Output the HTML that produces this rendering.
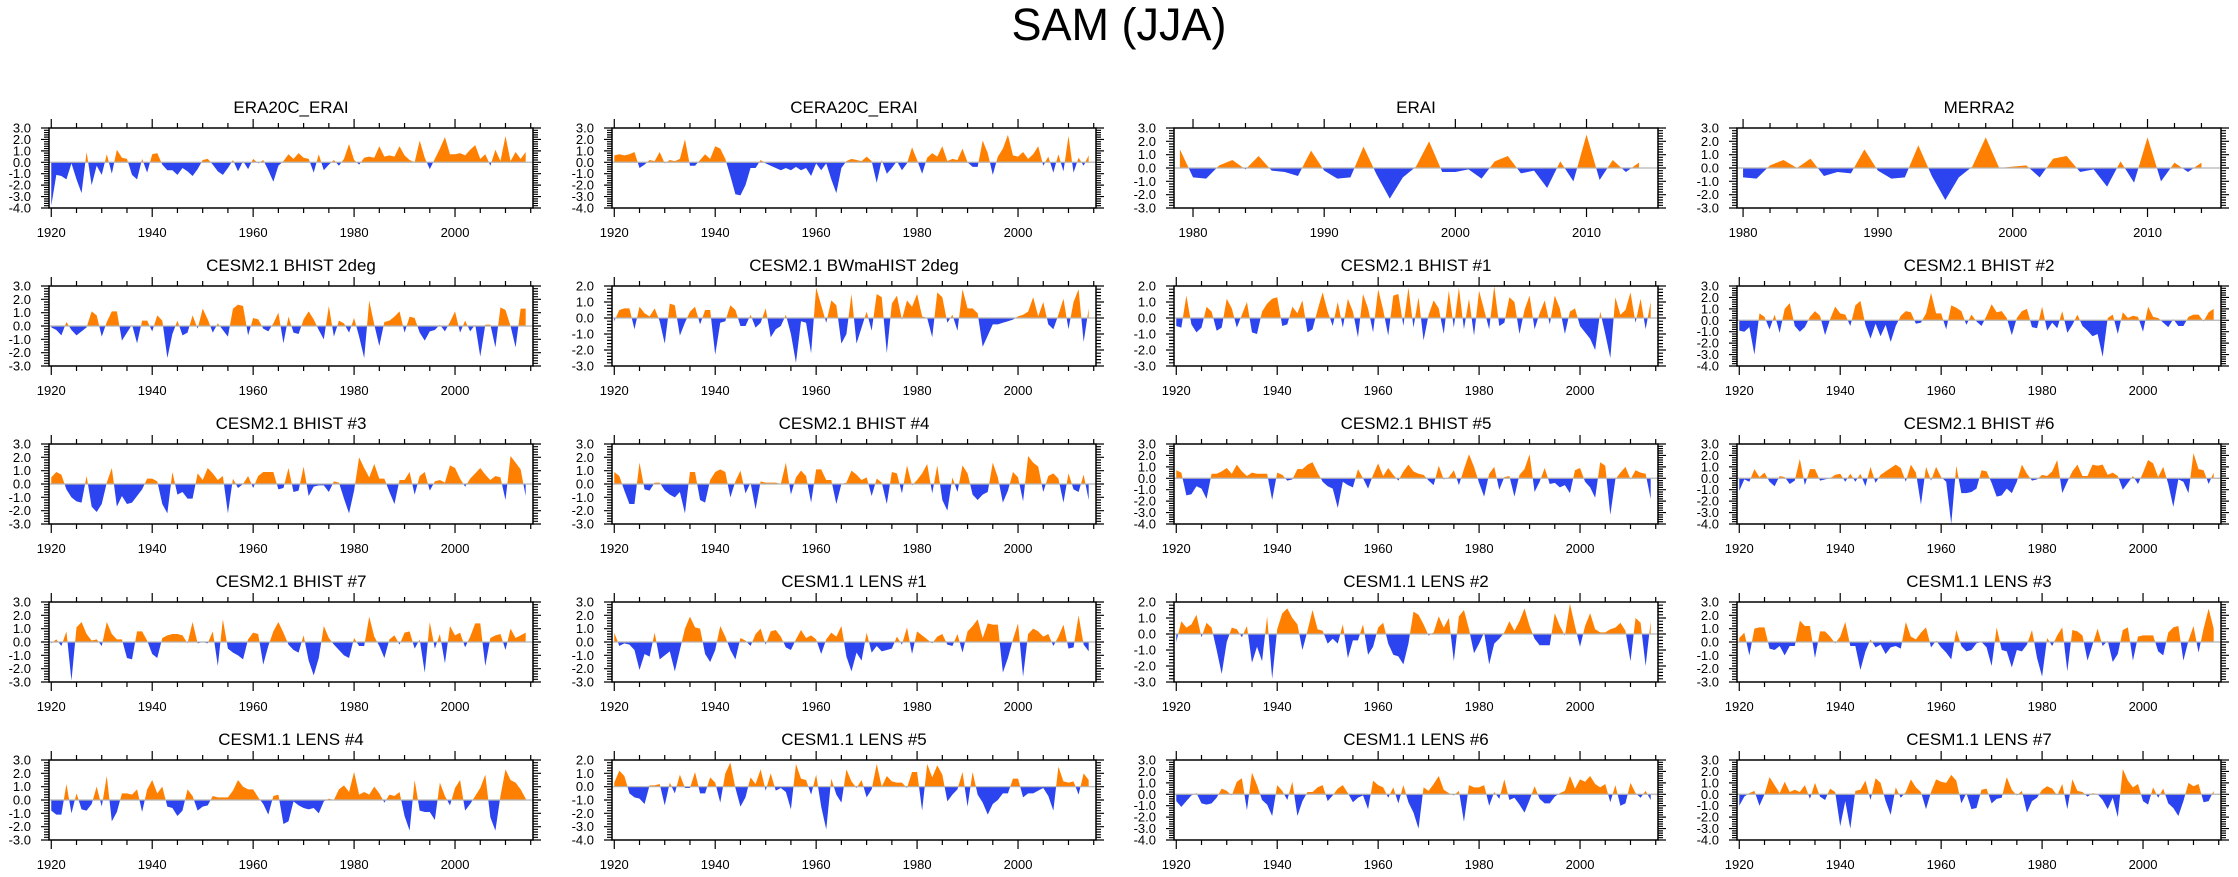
<!DOCTYPE html>
<html>
<head>
<meta charset="utf-8">
<style>
  html, body { margin:0; padding:0; background:#fff; }
  svg { display:block; font-family:"Liberation Sans", Arial, sans-serif; }
</style>
</head>
<body>
<svg id="chart" width="2238" height="877" viewBox="0 0 2238 877" xmlns="http://www.w3.org/2000/svg">
  <text x="1119" y="40" font-size="45" text-anchor="middle" fill="#000">SAM (JJA)</text>
</svg>
<script>
// ---- Data (yearly SAM index values) ----
const era20cErai = [-3.8,-1.1,-1.2,-1.5,-0.1,-1.5,-2.7,0.9,-2.0,-0.3, -1.1,0.7,-1.0,1.1,0.4,0.3,-1.1,-1.5,0.3,-0.9, 0.7,0.8,-0.2,-0.7,-0.7,-1.1,-0.5,-0.8,-1.2,-0.6, 0.2,0.3,-0.2,-0.8,-1.1,-0.5,0.2,-0.8,0.1,-0.6, 0.3,-0.1,0.2,-0.7,-1.7,-0.3,0.1,0.7,0.3,0.8, 0.4,0.3,-0.9,0.7,-0.7,-0.2,0.2,-0.3,0.3,1.6, 0.2,-0.2,0.4,0.5,0.4,1.4,0.5,0.6,0.5,1.4, 0.6,0.2,0.0,1.9,0.4,-0.6,0.3,1.2,2.2,0.7, 0.7,0.8,0.6,1.1,1.5,0.3,0.7,-0.3,1.1,0.1, 2.3,0.1,0.9,0.3,0.9];
const cera20cErai = [0.6,0.7,0.6,0.7,0.9,-0.5,-0.2,0.2,0.1,0.9, -0.1,0.2,0.1,0.3,2.0,-0.3,-0.3,0.2,0.7,0.3, 1.4,1.2,0.3,-1.2,-2.8,-2.9,-2.0,-0.5,-0.5,0.2, -0.1,-0.3,-0.5,-0.7,-0.5,-0.7,-0.4,-0.7,-0.5,-1.2, -0.1,-0.7,-0.1,-1.5,-2.7,-0.5,0.1,0.3,0.2,0.1, 0.5,0.1,-1.8,0.2,-1.0,-0.5,0.1,-0.7,-0.1,1.3, 0.2,-1.0,0.4,0.8,0.5,1.4,0.1,0.3,0.2,1.2, 0.0,-0.4,-0.4,1.9,0.8,-1.1,0.5,1.2,2.4,0.6, 0.5,0.9,0.3,0.7,1.4,-0.3,0.5,-0.9,0.7,-0.8, 2.3,-0.9,0.4,-0.3,0.6];
const erai = [1.4,-0.7,-0.8,0.2,0.6,-0.1,0.9,-0.2,-0.3,-0.6, 1.3,-0.2,-0.8,-0.7,1.6,-0.5,-2.3,-0.7,0.1,2.0, -0.3,-0.3,-0.1,-0.8,0.5,0.9,-0.4,-0.2,-1.5,0.5, -1.0,2.5,-0.9,0.6,-0.3,0.4];
const merra2 = [-0.7,-0.8,0.2,0.6,0.0,0.7,-0.6,-0.3,-0.4,1.4, -0.2,-0.8,-0.7,1.7,-0.6,-2.4,-0.7,0.1,2.3,0.0, 0.1,0.2,-0.7,0.7,0.9,-0.3,-0.1,-1.4,0.5,-1.1, 2.3,-1.0,0.4,-0.3,0.4];
const bhist2deg = [-0.1,-0.3,-0.7,0.3,-0.3,-0.7,-0.4,-0.1,1.1,0.8, -0.8,0.3,1.1,1.1,-1.1,-0.5,0.1,-1.3,0.4,0.4, -0.4,0.8,0.4,-2.4,-0.6,0.4,-0.7,-0.5,0.8,-0.2, 1.3,0.5,-0.5,0.2,-0.3,-0.8,1.3,1.6,1.5,-0.7, 0.6,0.5,-0.2,-0.4,0.2,1.0,-1.3,0.7,-0.5,-0.6, 0.5,1.1,0.5,-0.3,-1.0,1.5,-0.8,0.4,0.2,-0.5, 0.6,-0.8,-2.4,1.9,0.1,-1.5,0.3,0.4,0.7,1.1, -0.5,0.7,0.6,-0.5,-1.1,-0.4,-0.3,0.1,-0.4,0.3, 1.1,-0.5,0.4,-0.4,0.1,-2.3,0.1,0.1,-1.6,1.4, 1.2,0.0,-1.6,1.3,1.3];
const bwmahist2deg = [-0.2,0.5,0.6,0.6,-0.7,0.7,0.3,0.1,0.6,-0.2, -1.6,0.9,0.8,-1.1,-0.3,0.4,0.7,-0.4,0.5,0.5, -2.3,-0.3,-0.2,0.8,0.5,-0.5,-0.5,0.2,-0.6,-0.3, 0.6,-1.2,-0.7,-0.5,0.2,-1.0,-2.8,-0.2,-0.3,-2.2, 1.9,0.8,-0.3,1.1,0.8,-1.6,-1.0,1.5,-1.6,-0.6, 0.4,-0.8,1.5,1.3,-2.2,0.9,1.4,-0.1,1.1,0.7, 1.5,0.1,0.0,-1.2,1.6,1.3,-0.3,0.2,-0.8,1.8, 0.6,0.6,0.3,-1.8,-1.1,-0.4,-0.4,-0.3,-0.2,-0.1, 0.1,0.2,0.4,1.3,0.1,1.0,-0.4,-0.7,0.2,1.2, -0.7,1.0,1.8,-1.5,0.6];
const bhist1 = [-0.5,-0.6,1.4,-0.4,-0.9,-0.6,0.7,0.4,-0.8,-0.6, 1.2,0.6,-0.6,0.2,1.0,-0.9,-1.0,0.4,0.9,1.2, 1.3,-0.5,-0.4,0.7,0.3,1.1,-0.9,-0.7,0.5,1.6, 0.4,-0.5,1.0,-0.6,1.2,0.4,-1.2,1.5,0.6,-0.9, 1.8,0.5,-1.1,1.4,1.5,-0.5,1.9,-0.6,1.3,-1.4, 0.2,1.1,0.6,-1.0,1.7,-0.6,1.9,-0.7,1.2,-1.1, 1.7,0.5,-0.7,2.0,-0.5,-0.3,1.3,1.0,-1.0,0.5, 1.4,-0.7,0.3,1.1,-0.4,1.4,0.6,-1.0,0.4,0.6, -0.5,-0.9,-1.3,-2.0,0.4,-1.0,-2.5,1.3,0.2,0.5, 1.6,-0.3,1.2,-0.7,1.0];
const bhist2 = [-0.9,-1.0,-0.6,-3.0,0.6,0.3,-0.8,0.5,-1.1,1.0, 1.5,-0.5,-1.0,-0.6,0.3,0.8,0.4,-1.3,0.1,1.2, 0.6,0.5,-0.5,1.3,1.7,-0.4,-1.6,-0.3,-1.4,-0.4, -1.9,-0.5,0.4,0.8,0.7,-0.3,-0.2,0.6,2.4,0.6, 0.6,-0.8,1.3,1.1,0.8,-0.4,0.5,-0.1,-0.5,0.4, 1.4,0.7,0.8,0.2,-1.3,0.2,0.8,1.0,-0.6,-0.7, 1.2,-0.9,-0.2,-0.7,0.8,-1.1,-0.4,0.5,-0.5,-0.9, -1.4,-1.2,-3.2,0.2,0.5,-1.2,0.7,0.2,0.4,0.3, -1.0,1.2,0.3,0.2,-0.2,-0.6,0.1,-0.5,-0.5,0.3, 0.5,0.5,-0.1,0.7,1.0];
const bhist3 = [0.5,0.9,0.7,-0.4,-1.0,-1.3,-1.4,0.6,-1.7,-2.1, -1.5,0.1,1.2,-1.7,-0.9,-1.5,-1.4,-0.9,-0.4,0.4, 0.4,0.2,-1.5,-2.2,0.9,-0.8,-0.6,-1.1,-1.1,0.8, 0.3,1.2,0.8,0.3,0.6,-2.2,0.4,-0.3,0.0,0.6, -0.3,0.6,0.9,0.9,0.9,-0.4,-0.3,1.2,-0.6,-0.5, 1.3,-0.9,-0.2,-0.1,-0.1,-0.6,0.2,0.1,-1.1,-2.2, -0.5,2.0,1.2,0.5,1.5,0.4,0.4,-0.6,-1.5,0.3, 0.3,0.9,-0.8,0.6,0.9,-0.5,0.2,0.3,0.1,1.4, 1.2,0.4,-0.2,0.4,0.8,1.2,0.7,0.3,0.6,0.5, -1.2,2.1,1.6,1.1,-0.9];
const bhist4 = [0.9,0.6,-0.5,-1.5,-1.5,1.6,-0.4,-0.5,0.1,0.1, -0.5,-0.8,-1.0,-0.6,-2.2,0.9,0.9,-1.2,-1.4,0.3, 0.9,1.1,0.9,-1.0,0.2,1.0,-0.7,0.1,-1.9,0.2, 0.1,0.1,0.1,0.0,1.6,-0.8,0.5,1.0,0.6,-1.4, 1.1,1.1,0.3,0.3,-1.5,0.0,0.1,1.0,0.7,0.3, 0.5,-0.9,0.4,0.1,-1.5,0.9,0.8,-0.7,1.4,-0.1, 0.3,0.8,1.5,-0.7,1.4,-1.2,-2.0,0.5,-0.6,1.4, 0.8,-0.8,-1.2,-0.8,-0.6,1.6,0.5,-1.4,-0.5,0.9, 0.5,-1.3,2.1,1.6,1.3,-0.6,0.6,0.8,0.4,-1.4, 0.8,-0.4,-0.6,0.7,-1.2];
const bhist5 = [0.7,0.5,-1.5,-1.4,-0.7,-0.9,-1.8,0.4,0.4,0.6, 0.9,0.4,1.2,0.6,0.2,0.5,0.4,0.4,0.4,-1.9, 0.5,0.3,-0.2,-0.1,0.8,0.8,1.2,1.4,0.5,-0.3, -0.7,-0.9,-2.6,-0.3,-0.6,-0.8,0.8,0.0,-0.9,0.3, 1.3,0.2,0.9,0.3,-0.2,0.6,1.2,0.6,0.4,0.3, -0.2,-0.6,1.1,-0.1,0.1,0.7,-0.6,0.8,2.1,1.0, -0.4,-1.6,0.4,1.0,-1.0,0.1,0.2,-1.6,0.3,0.8, 2.1,-1.2,-0.3,0.9,-0.5,-0.4,-0.8,-0.6,-1.3,0.7, 0.9,-0.3,-0.8,-1.7,1.4,1.1,-3.2,-0.1,0.5,1.0, -0.1,0.7,0.5,0.4,-1.8];
const bhist6 = [-1.1,-0.1,-0.3,0.8,0.1,0.5,-0.3,-0.7,0.2,0.1, -0.5,-0.2,1.7,-0.6,0.8,0.8,-0.2,-0.1,0.0,0.3, 0.4,-0.3,0.4,-0.3,0.4,-0.7,1.0,-0.4,0.3,0.6, 0.9,1.2,0.9,-0.3,1.2,0.5,-2.3,1.0,-0.2,1.0, 0.1,-0.3,-4.0,1.1,-1.3,-1.3,-1.2,-0.9,0.7,0.6, -0.4,-1.6,-1.5,-0.9,-1.3,-0.3,1.2,0.4,-0.2,-0.1, 0.3,0.2,0.6,1.6,-1.3,-0.3,0.6,1.2,0.2,0.2, 1.2,1.1,1.2,0.3,0.5,0.2,-1.0,-0.4,0.2,-0.5, 0.5,1.6,1.3,0.1,1.0,-0.5,-2.5,-0.1,-0.3,-1.3, 2.2,0.8,0.7,-0.5,0.5];
const bhist7 = [-0.1,0.2,-0.3,0.8,-2.9,1.1,1.5,0.6,0.1,0.2, -0.3,1.5,0.6,0.2,0.2,-1.2,-1.3,0.8,0.8,0.1, -0.9,-1.2,0.3,0.5,0.6,0.6,0.5,-0.1,1.5,-0.1, 0.0,-0.1,0.8,-1.8,1.7,-0.5,-0.8,-1.0,-1.3,0.2, 0.7,0.6,-1.7,-0.3,0.8,1.5,0.7,-0.2,-0.6,-0.8, 0.5,-1.4,-2.5,-1.2,1.2,0.3,-0.2,-0.6,-1.0,-1.2, 0.3,-0.3,-0.3,1.9,0.4,-0.3,-1.2,0.2,0.5,-0.2, 0.7,0.8,-0.5,0.2,-2.3,1.5,-0.5,0.6,-1.6,1.2, 0.5,0.7,-0.4,0.4,1.4,1.4,-1.8,0.3,0.5,0.6, -0.6,1.0,0.3,0.5,0.7];
const lens1 = [0.7,-0.3,-0.1,-0.2,-0.6,-2.1,-0.9,-1.1,0.7,-1.3, -1.0,-0.7,-2.2,-0.6,1.0,1.9,1.1,1.0,-0.9,-1.5, -0.6,1.2,0.4,-0.6,-1.3,0.3,0.1,-0.3,0.6,1.0, -0.2,0.8,0.9,0.4,-0.4,-0.6,0.2,0.9,0.3,0.5, 0.2,-0.9,0.2,0.7,0.4,1.2,-1.1,-2.2,-0.8,-1.4, 0.7,-0.8,-0.3,-0.7,-0.6,-0.5,0.4,-0.2,1.1,-0.9, 0.8,0.5,0.2,-0.1,0.4,0.6,-0.2,-0.3,0.6,-0.8, 0.8,1.2,1.7,0.3,1.4,1.3,1.3,-2.3,-1.2,0.2, 1.4,-2.6,0.6,1.0,0.8,0.4,0.6,-0.3,0.4,1.3, -0.5,-0.4,2.0,-0.2,-0.7];
const lens2 = [-0.5,0.8,0.4,0.6,1.2,-0.2,0.7,0.4,-1.0,-2.5, -0.5,0.4,0.3,-0.2,0.5,-1.8,-0.8,-1.7,1.1,-2.8, 0.3,1.3,1.6,1.0,0.6,-1.0,0.2,1.5,0.3,0.2, -0.6,-0.3,-0.6,0.6,-1.5,-0.4,-0.4,0.6,-1.3,-0.8, 0.4,0.7,-0.6,-1.3,-1.4,-1.9,-0.6,1.4,1.2,0.6, -0.1,0.1,1.1,0.4,1.0,-1.7,1.1,1.5,0.3,-1.2, -0.6,0.1,-1.9,-0.6,-0.3,0.1,0.8,0.2,0.8,1.6, 0.5,-0.3,-0.7,-0.7,-0.7,1.3,0.5,-0.1,1.9,0.5, -0.8,0.5,1.3,0.3,0.1,0.1,0.3,0.4,0.7,0.2, -1.7,1.0,0.7,-2.0,0.8];
const lens3 = [0.3,0.7,-1.0,1.0,1.1,1.1,-0.5,-0.6,-0.3,-1.0, -0.3,-0.3,1.6,1.2,1.2,-1.2,0.8,0.8,0.4,-0.1, 0.4,1.5,-0.3,-0.3,-2.1,-0.7,0.2,-0.4,-0.2,-0.9, -0.4,-0.3,-0.5,1.5,0.4,0.2,0.7,1.1,-0.4,0.1, -0.4,-0.8,-1.3,0.9,-0.3,-0.7,-0.6,-0.1,0.0,-0.4, -1.8,1.1,-0.6,-0.7,-1.9,-0.6,-0.7,-0.2,0.9,-1.2, -2.6,0.3,-0.3,0.5,1.1,-2.2,0.9,0.8,0.5,-1.4, -0.2,1.0,-0.3,0.1,-1.5,-0.9,0.9,1.1,-1.4,0.4, 0.5,0.5,0.5,-0.7,-1.0,0.7,1.1,1.2,-1.4,0.1, 1.2,-0.8,1.0,2.5,1.0];
const lens4 = [-0.8,-1.1,-1.1,1.2,-1.0,0.5,-0.7,-0.8,-0.3,1.0, -0.5,1.8,-1.6,-0.9,0.5,0.5,0.4,0.8,-0.9,0.8, 1.5,0.5,1.0,-0.5,-0.6,-1.2,-0.8,0.8,0.3,-0.8, -0.5,-0.4,0.3,0.2,0.2,0.2,0.7,1.5,1.0,0.8, 0.8,0.2,-0.3,-1.1,0.3,0.4,-1.8,-1.6,-0.1,-0.4, -0.6,-0.7,-0.6,-1.0,-0.1,0.1,0.0,0.8,1.1,0.6, 2.1,0.4,0.6,0.4,1.0,0.5,-0.2,0.4,0.3,0.6, -1.2,-2.3,1.5,-0.8,-0.9,-0.9,-1.5,1.3,0.3,-0.4, 0.9,1.5,-0.8,-0.3,0.3,0.9,1.9,-1.3,-2.3,0.3, 2.3,1.5,1.3,0.8,0.1];
const lens5 = [0.3,1.2,0.8,-0.5,-0.8,-0.9,-1.3,0.1,0.1,0.2, -1.4,0.3,-0.5,0.9,-0.1,-0.1,1.1,-0.5,-0.5,0.7, 0.3,-1.2,1.0,1.8,-0.1,-1.5,-0.8,0.7,0.2,1.3, -0.3,1.0,-0.3,-0.1,-0.4,-1.7,1.7,0.6,0.5,-0.6, 0.9,-1.5,-3.2,0.6,-0.6,-1.2,1.3,0.4,-0.1,0.5, -0.8,-0.2,1.7,0.0,0.8,0.4,0.3,0.3,-0.1,1.1, 1.1,-1.8,1.7,0.7,1.6,0.9,-1.1,-0.6,-0.2,1.1, -1.5,1.1,-0.6,-1.2,-2.1,-1.3,-1.0,-0.5,-0.5,0.6, 0.6,-0.8,-0.5,-0.5,-0.3,-0.1,-0.7,-1.8,1.5,0.4, 0.3,0.4,-0.6,1.0,0.5];
const lens6 = [-0.6,-1.1,-0.6,-0.1,0.1,-0.8,-0.9,-0.8,-0.3,0.5, 0.3,-0.1,1.1,1.4,-1.4,1.9,0.8,-0.5,-0.9,-1.9, 0.8,0.3,-0.5,1.1,-1.9,-0.6,0.2,0.2,0.6,0.8, -0.6,-0.1,0.5,0.8,0.1,-0.7,-0.3,-0.1,-1.3,1.2, 0.8,0.6,-0.3,0.6,-0.8,0.8,-0.7,-1.6,-3.0,0.6, 0.3,0.9,1.6,0.4,0.1,-0.1,0.3,-2.4,0.8,0.6, 0.6,0.8,-1.0,0.2,-0.4,1.3,-0.5,-0.3,-0.9,-1.6, -0.5,0.7,-0.4,-0.8,-0.8,-0.2,0.1,0.3,1.6,0.5, 1.3,1.1,1.6,0.9,0.6,0.9,-0.7,0.8,-1.0,-0.8, 1.0,0.1,-0.3,0.3,-0.5];
const lens7 = [-1.0,-0.2,0.1,0.3,-1.0,0.0,1.5,0.8,0.1,1.1, 0.2,0.4,0.2,0.8,-0.4,1.0,-0.2,-0.5,0.5,0.2, -2.8,-0.6,-3.0,0.3,0.4,1.2,-0.5,1.4,1.0,-0.6, -1.8,0.6,-0.3,0.2,1.3,0.6,0.2,-1.3,0.2,1.3, 1.1,1.0,1.7,1.2,-0.8,0.1,-1.3,-1.2,0.4,0.5, -0.8,-0.4,-0.3,1.5,0.4,-0.1,0.3,-1.6,-0.6,-0.3, 0.4,0.7,0.5,-0.1,0.9,-1.3,1.3,0.3,0.2,-0.2, 0.1,0.0,-0.5,-1.3,-0.3,-2.0,2.2,1.2,0.6,0.9, -0.6,-0.9,0.6,-0.3,0.5,-0.8,-1.2,-1.9,-0.6,1.0, 0.7,0.9,-0.7,-0.6,0.3];

// panel titles and y-axis tick labels
const panelTitles = ["ERA20C_ERAI","CERA20C_ERAI","ERAI","MERRA2",
  "CESM2.1 BHIST 2deg","CESM2.1 BWmaHIST 2deg","CESM2.1 BHIST #1","CESM2.1 BHIST #2",
  "CESM2.1 BHIST #3","CESM2.1 BHIST #4","CESM2.1 BHIST #5","CESM2.1 BHIST #6",
  "CESM2.1 BHIST #7","CESM1.1 LENS #1","CESM1.1 LENS #2","CESM1.1 LENS #3",
  "CESM1.1 LENS #4","CESM1.1 LENS #5","CESM1.1 LENS #6","CESM1.1 LENS #7"];
const panelSeries = [era20cErai,cera20cErai,erai,merra2,
  bhist2deg,bwmahist2deg,bhist1,bhist2,
  bhist3,bhist4,bhist5,bhist6,
  bhist7,lens1,lens2,lens3,
  lens4,lens5,lens6,lens7];
const panelStartYears = [1920,1920,1979,1980, 1920,1920,1920,1920, 1920,1920,1920,1920, 1920,1920,1920,1920, 1920,1920,1920,1920];
const panelYMin = [-4,-4,-3,-3, -3,-3,-3,-4, -3,-3,-4,-4, -3,-3,-3,-3, -3,-4,-4,-4];
const panelYMax = [3,3,3,3, 3,2,2,3, 3,3,3,3, 3,3,2,3, 3,2,3,3];
const longXTicks = [1920,1940,1960,1980,2000];
const shortXTicks = [1980,1990,2000,2010];

// ---- Layout ----
const NS = "http://www.w3.org/2000/svg";
const svg = document.getElementById('chart');
const colLeft = [49, 612, 1174, 1737];
const rowTop = [128, 286, 444, 602, 760];
const PW = 484, PH = 80;
const POS = "#ff8000", NEG = "#2b44ef";

function mk(tag, attrs, parent) {
  const e = document.createElementNS(NS, tag);
  for (const k in attrs) e.setAttribute(k, attrs[k]);
  (parent || svg).appendChild(e);
  return e;
}

panelSeries.forEach((vals, p) => {
  const col = p % 4, row = Math.floor(p / 4);
  const L = colLeft[col], T = rowTop[row];
  const start = panelStartYears[p];
  const isShort = start > 1950;
  const xmin = start - 0.45, xmax = 2015.45;
  const ymin = panelYMin[p], ymax = panelYMax[p];
  const xs = y => L + (y - xmin) / (xmax - xmin) * PW;
  const ys = v => T + (ymax - v) / (ymax - ymin) * PH;

  const g = mk('g', {});
  
  

  const title = mk('text', {x: L + PW / 2, y: T - 15, 'font-size': 17, 'text-anchor': 'middle', fill: '#000'}, g);
  title.textContent = panelTitles[p];
  
  

  // build points with zero crossings
  const pts = [];
  for (let i = 0; i < vals.length; i++) {
    const yr = start + i, v = vals[i];
    pts.push([yr, v]);
    if (i < vals.length - 1) {
      const v2 = vals[i + 1];
      if (v * v2 < 0) pts.push([yr + v / (v - v2), 0]);
    }
  }
  const y0 = ys(0);
  function areaPath(clampFn) {
    let d = 'M' + xs(pts[0][0]).toFixed(2) + ',' + y0.toFixed(2);
    pts.forEach(q => { d += 'L' + xs(q[0]).toFixed(2) + ',' + ys(clampFn(q[1])).toFixed(2); });
    d += 'L' + xs(pts[pts.length - 1][0]).toFixed(2) + ',' + y0.toFixed(2) + 'Z';
    return d;
  }
  const pos = mk('path', {d: areaPath(v => Math.max(v, 0)), fill: POS, stroke: 'none'}, g);
  
  
  const neg = mk('path', {d: areaPath(v => Math.min(v, 0)), fill: NEG, stroke: 'none'}, g);
  
  

  const zl = mk('line', {x1: L, x2: L + PW, y1: y0, y2: y0, stroke: '#b4b4b4', 'stroke-width': 1.2}, g);
  
  

  const frame = mk('rect', {x: L, y: T, width: PW, height: PH, fill: 'none', stroke: '#000', 'stroke-width': 1.5}, g);
  
  

  // y ticks (minor every 0.2, major every 1)
  let tk = '';
  for (let k = Math.round(ymin * 5); k <= Math.round(ymax * 5); k++) {
    const v = k / 5, yy = ys(v).toFixed(2);
    const len = (k % 5 === 0) ? 8 : 5;
    tk += 'M' + L + ',' + yy + 'h' + (-len) + 'M' + (L + PW) + ',' + yy + 'h' + len;
  }
  // x ticks
  const minorStep = isShort ? 2 : 5, majorStep = isShort ? 10 : 20;
  for (let yr = Math.ceil(xmin / minorStep) * minorStep; yr <= xmax; yr += minorStep) {
    const xx = xs(yr).toFixed(2);
    const len = (yr % majorStep === 0) ? 9 : 5;
    tk += 'M' + xx + ',' + T + 'v' + (-len) + 'M' + xx + ',' + (T + PH) + 'v' + len;
  }
  const ticks = mk('path', {d: tk, stroke: '#000', 'stroke-width': 1.2, fill: 'none'}, g);
  
  

  for (let v = ymin; v <= ymax; v++) {
    const t = mk('text', {x: L - 18, y: ys(v) + 4.5, 'font-size': 13, 'text-anchor': 'end', fill: '#000'}, g);
    t.textContent = v.toFixed(1);
    
    
  }
  (isShort ? shortXTicks : longXTicks).forEach(yr => {
    const t = mk('text', {x: xs(yr), y: T + PH + 29, 'font-size': 13, 'text-anchor': 'middle', fill: '#000'}, g);
    t.textContent = String(yr);
    
    
  });
});
</script>
</body>
</html>
